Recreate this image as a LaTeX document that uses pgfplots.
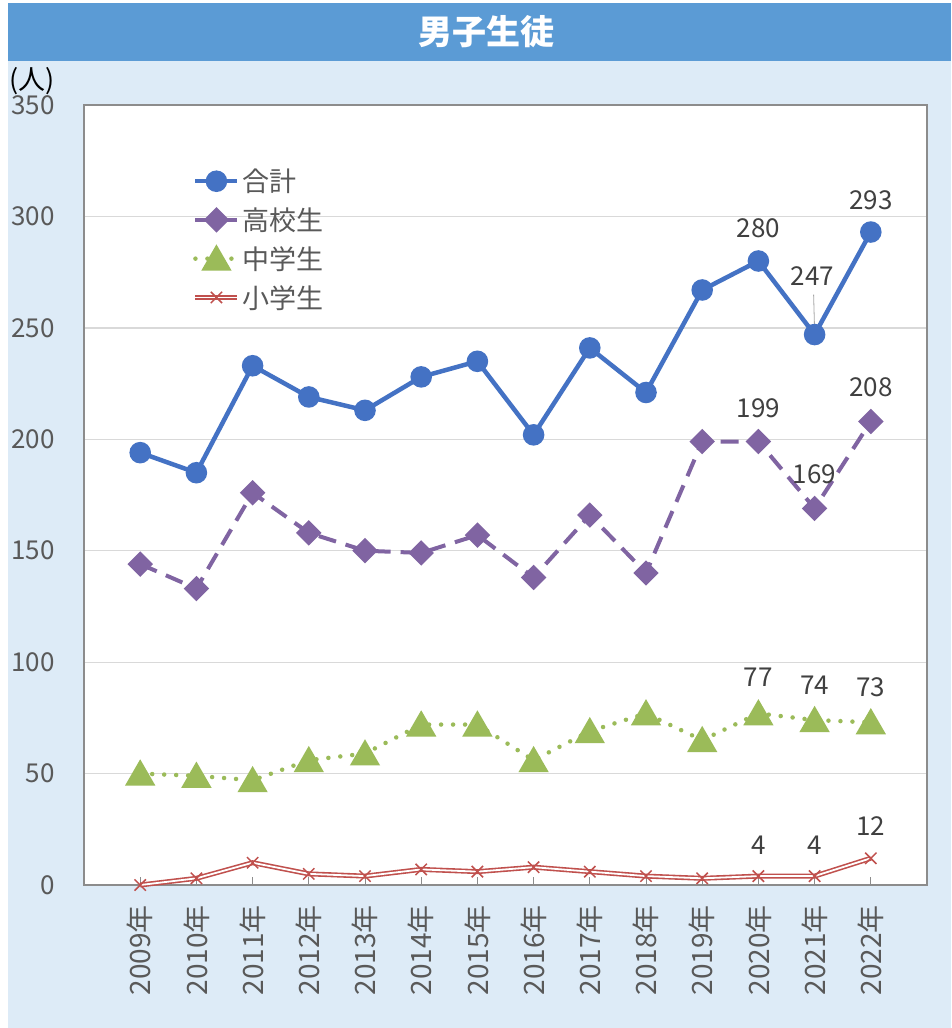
\documentclass[border=0pt]{standalone}
\usepackage{fontspec}
\setmainfont{Noto Sans CJK JP}
\usepackage{pgfplots}
\usepackage{pgfplotstable}
\pgfplotsset{compat=1.18}
\definecolor{cBlue}{HTML}{4472C4}
\definecolor{cPurple}{HTML}{8064A2}
\definecolor{cGreen}{HTML}{9BBB59}
\definecolor{cRed}{HTML}{C0504D}
\definecolor{cTitle}{HTML}{5B9BD5}
\definecolor{cBg}{HTML}{DDEBF7}
\definecolor{cTick}{HTML}{595959}
\definecolor{cLab}{HTML}{404040}
\definecolor{cGrid}{HTML}{D9D9D9}
\definecolor{cAxis}{HTML}{8C8C8C}
\tikzset{lab/.style={font=\fontsize{26}{30}\selectfont, text=cLab, inner sep=0pt}}

\pgfplotstableread{
x total high middle elem
0 194 144 50 0
1 185 133 49 3
2 233 176 47 10
3 219 158 56 5
4 213 150 59 4
5 228 149 72 7
6 235 157 72 6
7 202 138 56 8
8 241 166 69 6
9 221 140 77 4
10 267 199 65 3
11 280 199 77 4
12 247 169 74 4
13 293 208 73 12
}\datatable

\begin{document}
\begin{tikzpicture}[x=1pt,y=1pt]
\path[use as bounding box] (0pt,0pt) rectangle (951pt,-1028pt);
\fill[white] (0pt,0pt) rectangle (951pt,-1028pt);
\fill[cBg] (8pt,-3pt) rectangle (951pt,-1028pt);
\fill[cTitle] (8pt,-3pt) rectangle (951pt,-61pt);
\node[text=white, font=\fontsize{34}{40}\selectfont\bfseries] at (486pt,-32pt) {男子生徒};
\node[font=\fontsize{27}{30}\selectfont, anchor=west, inner sep=0pt, text=black] at (9pt,-81pt) {(人)};
\begin{axis}[
  at={(84pt,-885pt)}, anchor=south west,
  scale only axis, width=843pt, height=780pt,
  xmin=-1, xmax=14, ymin=0, ymax=350,
  xtick={0,...,13},
  xticklabels={2009年,2010年,2011年,2012年,2013年,2014年,2015年,2016年,2017年,2018年,2019年,2020年,2021年,2022年},
  ytick={0,50,...,350},
  ymajorgrids, grid style={cGrid, line width=1.3pt},
  axis line style={cAxis, line width=1.3pt},
  axis background/.style={fill=white},
  tick align=inside, xtick pos=left, ytick pos=left,
  ytick style={draw=none}, xtick style={cAxis, line width=1pt},
  major tick length=8pt,
  tick label style={font=\fontsize{26}{30}\selectfont, text=cTick},
  xticklabel style={font=\fontsize{28}{30}\selectfont},
  /pgf/number format/assume math mode=true,
  xticklabel style={rotate=90, anchor=east, inner sep=0pt},
  xticklabel shift=20pt,
  yticklabel style={anchor=east, inner sep=0pt},
  yticklabel shift=29pt,
  clip=false,
  legend cell align=left,
  legend image code/.code={\draw[mark repeat=2, mark phase=2, #1] plot coordinates {(0pt,0pt) (21pt,0pt) (42pt,0pt)};},
  legend style={at={(axis description cs:0.129,0.918)}, anchor=north west, draw=none, fill=none,
    font=\fontsize{27}{32}\selectfont, text=cTick, inner sep=0pt, row sep=14.5pt, column sep=3pt,
    nodes={inner sep=0pt}},
]
\addplot[cBlue, line width=4.5pt, mark=*, mark size=8.5pt, mark options={solid}] table[x=x,y=total]{\datatable};
\addlegendentry{合計}
\addplot[cPurple, line width=4pt, dash pattern=on 18pt off 10pt, mark=square*, mark size=7pt, mark options={solid, rotate=45}] table[x=x,y=high]{\datatable};
\addlegendentry{高校生}
\addplot[cGreen, line width=4.5pt, line cap=round, dash pattern=on 0pt off 12pt, mark=triangle*, mark size=13pt, mark options={solid, yshift=-3.2pt}] table[x=x,y=middle]{\datatable};
\addlegendentry{中学生}
\addplot[forget plot, cRed, line width=5pt] table[x=x,y=elem]{\datatable};
\addplot[forget plot, white, line width=1.8pt] table[x=x,y=elem]{\datatable};
\addplot[cRed, only marks, mark=x, mark size=8pt, mark options={line width=1.5pt},
  legend image code/.code={
    \draw[cRed, line width=5pt] (0pt,0pt) -- (42pt,0pt);
    \draw[white, line width=1.8pt] (0pt,0pt) -- (42pt,0pt);
    \draw[cRed, line width=1.5pt] plot[mark=x, mark size=8pt] coordinates {(21pt,0pt)};
  }] table[x=x,y=elem]{\datatable};
\addlegendentry{小学生}

\node[lab, yshift=33pt] at (axis cs:11,280) {280};
\node[lab, yshift=32pt] at (axis cs:13,293) {293};
\node[lab, yshift=58pt, xshift=-2pt] at (axis cs:12,247) {247};
\draw[gray!70, line width=0.8pt] ([yshift=4pt]axis cs:12,247) -- ([xshift=-1pt,yshift=40pt]axis cs:12,247);
\node[lab, yshift=33pt] at (axis cs:11,199) {199};
\node[lab, yshift=34pt] at (axis cs:12,169) {169};
\node[lab, yshift=34pt] at (axis cs:13,208) {208};
\node[lab, yshift=36pt] at (axis cs:11,77) {77};
\node[lab, yshift=35pt] at (axis cs:12,74) {74};
\node[lab, yshift=35pt] at (axis cs:13,73) {73};
\node[lab, yshift=31pt] at (axis cs:11,4) {4};
\node[lab, yshift=31pt] at (axis cs:12,4) {4};
\node[lab, yshift=32pt] at (axis cs:13,12) {12};
\end{axis}
\end{tikzpicture}
\end{document}
